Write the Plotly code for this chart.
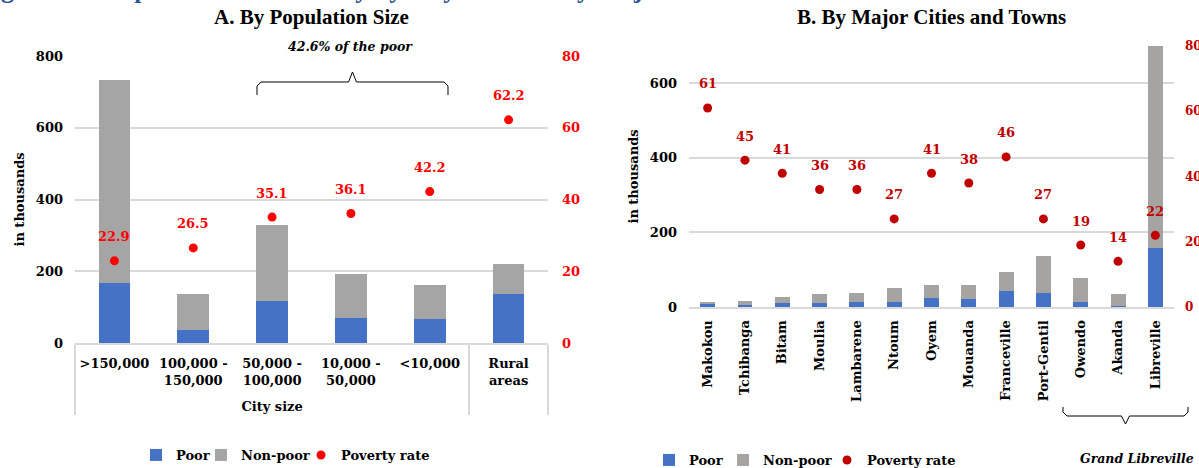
import plotly.graph_objects as go

W, H = 1199, 468

# ---------------- Panel A data ----------------
a_groups = ["<br>City size"] * 5 + ["<br> "]
a_labels = [">150,000", "100,000 -<br>150,000", "50,000 -<br>100,000",
            "10,000 -<br>50,000", "<10,000", "Rural<br>areas"]
a_poor = [167, 35, 116, 69, 66, 136]
a_nonpoor = [565, 102, 213, 124, 95, 85]
a_rate = [22.9, 26.5, 35.1, 36.1, 42.2, 62.2]
a_rate_text = ["22.9", "26.5", "35.1", "36.1", "42.2", "62.2"]

# ---------------- Panel B data ----------------
b_cities = ["Makokou", "Tchibanga", "Bitam", "Moulia", "Lambarene", "Ntoum", "Oyem",
            "Mouanda", "Franceville", "Port-Gentil", "Owendo", "Akanda", "Libreville"]
b_poor = [7, 5, 12, 12, 14, 14, 24, 22, 44, 37, 14, 2, 157]
b_nonpoor = [6, 10, 16, 22, 24, 38, 35, 36, 50, 100, 64, 32, 543]
b_rate = [61, 45, 41, 36, 36, 27, 41, 38, 46, 27, 19, 14, 22]
b_rate_text = [str(v) for v in b_rate]

series_names = ["Poor", "Non-poor", "Poverty rate"]

BLUE = "#4472C4"
GREY_A = "#A5A5A5"
GREY_B = "#A6A3A3"
RED_A = "#FF0000"
RED_B = "#C00000"
GRID = "#D9D9D9"
FONT = "DejaVu Serif"


def px(x):
    return x / W


def py(y):
    return 1 - y / H


fig = go.Figure()

# Panel A
fig.add_trace(go.Bar(x=[a_groups, a_labels], y=a_poor, name=series_names[0], marker_color=BLUE,
                     marker_line_width=0, xaxis="x", yaxis="y", legend="legend", showlegend=True))
fig.add_trace(go.Bar(x=[a_groups, a_labels], y=a_nonpoor, name=series_names[1], marker_color=GREY_A,
                     marker_line_width=0, xaxis="x", yaxis="y", legend="legend2", showlegend=True))
fig.add_trace(go.Scatter(x=[a_groups, a_labels], y=a_rate, name=series_names[2], mode="markers",
                         marker=dict(color=RED_A, size=9), xaxis="x", yaxis="y2", legend="legend3",
                         showlegend=True))

# Panel B
fig.add_trace(go.Bar(x=b_cities, y=b_poor, name=series_names[0], marker_color=BLUE,
                     marker_line_width=0, xaxis="x2", yaxis="y3", legend="legend4", showlegend=True))
fig.add_trace(go.Bar(x=b_cities, y=b_nonpoor, name=series_names[1], marker_color=GREY_B,
                     marker_line_width=0, xaxis="x2", yaxis="y3", legend="legend5", showlegend=True))
fig.add_trace(go.Scatter(x=b_cities, y=b_rate, name=series_names[2], mode="markers",
                         marker=dict(color=RED_B, size=9), xaxis="x2", yaxis="y4", legend="legend6",
                         showlegend=True))

annotations = []
for i, (v, t) in enumerate(zip(a_rate, a_rate_text)):
    annotations.append(dict(x=i, y=v, xref="x", yref="y2", text=t, showarrow=False,
                            yshift=24, font=dict(color=RED_A, size=13, family=FONT, weight="bold")))
for c, v, t in zip(b_cities, b_rate, b_rate_text):
    annotations.append(dict(x=c, y=v, xref="x2", yref="y4", text=t, showarrow=False,
                            yshift=24, font=dict(color=RED_B, size=13, family=FONT, weight="bold")))

# Titles
annotations.append(dict(x=px(311), y=py(17), xref="paper", yref="paper", text="A. By Population Size",
                        showarrow=False, xanchor="center", yanchor="middle",
                        font=dict(family="Liberation Serif", size=21, weight="bold", color="black")))
annotations.append(dict(x=px(931), y=py(17), xref="paper", yref="paper", text="B. By Major Cities and Towns",
                        showarrow=False, xanchor="center", yanchor="middle",
                        font=dict(family="Liberation Serif", size=21, weight="bold", color="black")))
annotations.append(dict(x=px(350), y=py(47), xref="paper", yref="paper", text="<b><i>42.6% of the poor</i></b>",
                        showarrow=False, xanchor="center", yanchor="middle",
                        font=dict(family=FONT, size=12.5, color="black")))
annotations.append(dict(x=px(1196), y=py(458), xref="paper", yref="paper", text="<b><i>Grand Libreville</i></b>",
                        showarrow=False, xanchor="right", yanchor="middle",
                        font=dict(family=FONT, size=12.5, color="black")))
# clipped figure heading at the very top (only descenders visible)
annotations.append(dict(x=px(-24), y=py(6), xref="paper", yref="paper",
                        text="Figure 2.1: Population and Poverty by City Size and by Major Cities",
                        showarrow=False, xanchor="left", yanchor="bottom",
                        font=dict(family="Liberation Serif", size=26, weight="bold", color="#2F5597")))


def brace(x0, x1, yline, yend, ycusp):
    xm = (x0 + x1) / 2
    s = 1 if yend > yline else -1
    pts = [(x0, yend), (x0, yline + 4 * s), (x0 + 4, yline), (xm - 4, yline), (xm, ycusp),
           (xm + 4, yline), (x1 - 4, yline), (x1, yline + 4 * s), (x1, yend)]
    return "M " + " L ".join(f"{px(a):.5f},{py(b):.5f}" for a, b in pts)


shapes = [
    dict(type="path", xref="paper", yref="paper", path=brace(257, 448, 82, 95, 72),
         line=dict(color="black", width=1)),
    dict(type="path", xref="paper", yref="paper", path=brace(1063, 1188, 416, 407, 424),
         line=dict(color="black", width=1)),
]

tickfont = dict(family=FONT, size=13, color="black", weight="bold")


def leg(text_x, text_y):
    return dict(orientation="h", x=px(text_x - 40), xanchor="left", y=py(text_y), yanchor="middle",
                font=dict(family=FONT, size=13, weight="bold", color="black"),
                bgcolor="rgba(0,0,0,0)", itemwidth=30, visible=True)


fig.update_layout(
    width=W, height=H, margin=dict(l=0, r=0, t=0, b=0, autoexpand=False),
    paper_bgcolor="white", plot_bgcolor="white",
    barmode="stack", bargap=0.6, showlegend=True,
    font=dict(family=FONT, size=13, color="black", weight="bold"),
    annotations=annotations, shapes=shapes,
    xaxis=dict(domain=[px(75), px(548)], anchor="y", type="multicategory", range=[-0.5, 5.5],
               showline=True, linecolor=GRID, linewidth=2, ticks="", tickfont=tickfont,
               showdividers=True, dividercolor=GRID, dividerwidth=2, ticklabelstandoff=7),
    yaxis=dict(domain=[py(343), py(56)], anchor="x", range=[0, 800], dtick=200, tick0=0,
               showgrid=True, gridcolor=GRID, gridwidth=2, zeroline=False, ticks="",
               tickfont=tickfont, ticklabelstandoff=11,
               title=dict(text="in thousands", standoff=8, font=dict(family=FONT, size=13, weight="bold"))),
    yaxis2=dict(overlaying="y", side="right", anchor="x", range=[0, 80], dtick=20, tick0=0,
                showgrid=False, zeroline=False, ticks="", ticklabelstandoff=13,
                tickfont=dict(family=FONT, size=13, color=RED_A, weight="bold")),
    xaxis2=dict(domain=[px(689), px(1174)], anchor="y3", range=[-0.5, 12.5], tickangle=-90,
                showline=True, linecolor=GRID, linewidth=2, ticks="", tickfont=tickfont,
                ticklabelstandoff=6),
    yaxis3=dict(domain=[py(307), py(46)], anchor="x2", range=[0, 700], tickvals=[0, 200, 400, 600],
                showgrid=True, gridcolor=GRID, gridwidth=2, zeroline=False, ticks="",
                tickfont=tickfont, ticklabelstandoff=11,
                title=dict(text="in thousands", standoff=8, font=dict(family=FONT, size=13, weight="bold"))),
    yaxis4=dict(overlaying="y3", side="right", anchor="x2", range=[0, 80], dtick=20, tick0=0,
                showgrid=False, zeroline=False, ticks="", ticklabelstandoff=10,
                tickfont=dict(family=FONT, size=12, color=RED_B, weight="bold")),
    legend=leg(176, 455), legend2=leg(241, 455), legend3=leg(341, 455),
    legend4=leg(689, 460), legend5=leg(763, 460), legend6=leg(867, 460),
)

fig.write_html("out.html")
